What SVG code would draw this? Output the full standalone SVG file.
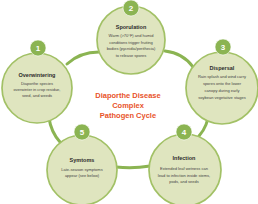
<svg xmlns="http://www.w3.org/2000/svg" width="258" height="204" viewBox="0 0 258 204">
<style>
.node{fill:#dfe5bf;stroke:#a2c166;stroke-width:1.7}
.badge{fill:#8bb452;stroke:#ffffff;stroke-width:0.6}
.num{font-family:"Liberation Sans",Arial,sans-serif;font-weight:bold;font-size:8px;fill:#ffffff;text-anchor:middle}
.t{font-family:"Liberation Sans",Arial,sans-serif;font-weight:bold;font-size:5.5px;fill:#2b2b2b;text-anchor:middle}
.b{font-family:"Liberation Sans",Arial,sans-serif;font-size:4px;fill:#444444;text-anchor:middle}
.title{font-family:"Liberation Sans",Arial,sans-serif;font-weight:bold;font-size:7.5px;fill:#e8532a;text-anchor:middle}
.con{fill:none;stroke:#8bb452;stroke-width:3;stroke-linecap:round}
</style>
<rect width="258" height="204" fill="#ffffff"/>
<g id="connectors">
<path class="con" d="M 67 64 Q 80 52 99 52"/>
<path class="con" d="M 165 51 Q 183 53 193 67"/>
<path class="con" d="M 209 111 Q 208 126 199 136"/>
<path class="con" d="M 116 167 Q 133 169 150 166"/>
<path class="con" d="M 49 118 Q 51 132 60 142"/>
</g>
<g id="node1">
<circle class="node" cx="37" cy="88" r="35"/>
<circle class="badge" cx="38" cy="48" r="8"/>
<text class="num" x="38" y="51">1</text>
<text class="t" x="37" y="77">Overwintering</text>
<text class="b" x="37" y="85">Diaporthe species</text>
<text class="b" x="37" y="91">overwinter in crop residue,</text>
<text class="b" x="37" y="97">seed, and weeds</text>
</g>
<g id="node2">
<circle class="node" cx="131" cy="40" r="34"/>
<circle class="badge" cx="131" cy="8" r="8"/>
<text class="num" x="131" y="11">2</text>
<text class="t" x="131" y="29">Sporulation</text>
<text class="b" x="131" y="37">Warm (&gt;70°F) and humid</text>
<text class="b" x="131" y="43.5">conditions trigger fruiting</text>
<text class="b" x="131" y="50">bodies (pycnidia/perithecia)</text>
<text class="b" x="131" y="57">to release spores</text>
</g>
<g id="node3">
<circle class="node" cx="222" cy="88" r="36"/>
<circle class="badge" cx="223" cy="47" r="8"/>
<text class="num" x="223" y="50">3</text>
<text class="t" x="222" y="70">Dispersal</text>
<text class="b" x="222" y="78">Rain splash and wind carry</text>
<text class="b" x="222" y="85">spores onto the lower</text>
<text class="b" x="222" y="92">canopy during early</text>
<text class="b" x="222" y="99">soybean vegetative stages</text>
</g>
<g id="node4">
<circle class="node" cx="185" cy="170" r="36"/>
<circle class="badge" cx="184" cy="132" r="8"/>
<text class="num" x="184" y="135">4</text>
<text class="t" x="184" y="160">Infection</text>
<text class="b" x="184" y="170">Extended leaf wetness can</text>
<text class="b" x="184" y="176.5">lead to infection inside stems,</text>
<text class="b" x="184" y="183">pods, and seeds</text>
</g>
<g id="node5">
<circle class="node" cx="82" cy="170" r="35"/>
<circle class="badge" cx="82" cy="132" r="8"/>
<text class="num" x="82" y="135">5</text>
<text class="t" x="82" y="162">Symtoms</text>
<text class="b" x="82" y="171">Late-season symptoms</text>
<text class="b" x="82" y="177">appear (see below)</text>
</g>
<g id="title">
<text class="title" x="128" y="98">Diaporthe Disease</text>
<text class="title" x="128" y="108">Complex</text>
<text class="title" x="128" y="118">Pathogen Cycle</text>
</g>
</svg>
